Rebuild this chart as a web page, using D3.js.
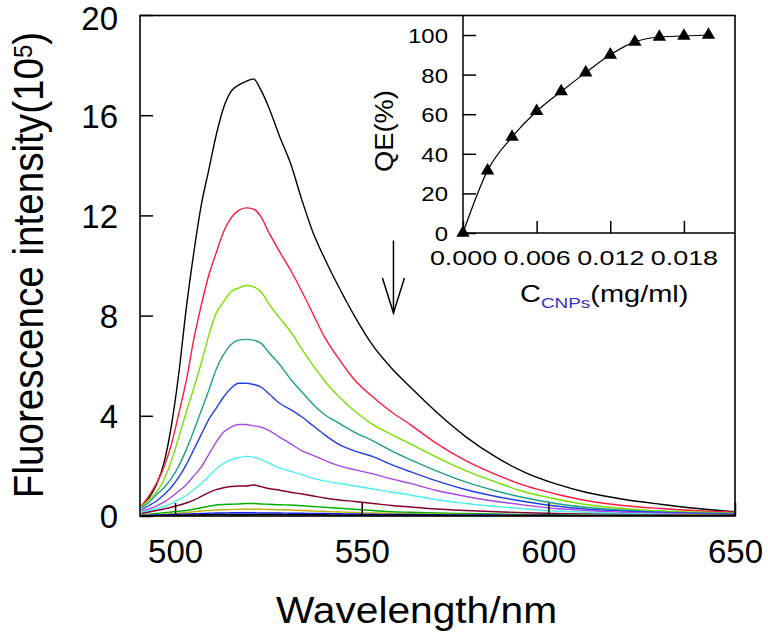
<!DOCTYPE html>
<html><head><meta charset="utf-8">
<script src="https://cdn.jsdelivr.net/npm/d3@7"></script>
<style>
body{margin:0;background:#fff}
svg{display:block}
text{font-family:"Liberation Sans",Arial,sans-serif;fill:#000}
</style>
</head><body>
<svg id="c" width="768" height="635"></svg>
<script>
// ---------- data ----------
const wavelengths = [491,493,495,497,499,501,503,505,507,509,511,513,515,517,519,521,523,525,528,531,534,537,540,544,548,553,558,563,570,578,586,594,602,610,620,630,640,650];
const sBlack  = [0.4,0.72,1.25,2.1,3.6,5.7,8.3,10.5,12.4,13.8,15.2,16.3,16.95,17.2,17.35,17.45,17.0,16.35,15.15,14.05,12.6,11.3,10.3,9.1,8.0,6.8,5.9,5.15,4.15,3.15,2.35,1.72,1.28,0.95,0.67,0.47,0.3,0.17];
const sRed    = [0.4,0.8,1.3,1.95,2.85,4.1,5.4,7.05,8.4,9.6,10.5,11.35,11.9,12.2,12.3,12.25,11.95,11.35,10.55,9.8,8.95,8.05,7.15,6.25,5.45,4.75,4.15,3.65,2.9,2.2,1.65,1.2,0.88,0.62,0.42,0.3,0.21,0.15];
const sLime   = [0.37,0.65,0.95,1.45,2.2,3.15,4.15,5.1,6.1,7.2,8.1,8.55,8.95,9.1,9.2,9.15,8.95,8.5,7.9,7.35,6.65,6.0,5.4,4.75,4.2,3.65,3.25,2.88,2.35,1.8,1.35,0.95,0.68,0.46,0.3,0.21,0.15,0.11];
const sTeal   = [0.32,0.55,0.85,1.12,1.5,2.0,2.65,3.4,4.2,5.0,5.85,6.45,6.85,7.02,7.05,7.02,6.9,6.55,6.05,5.45,4.95,4.45,4.05,3.7,3.35,3.0,2.6,2.25,1.8,1.35,1.0,0.72,0.5,0.35,0.24,0.16,0.12,0.1];
const sBlue   = [0.25,0.42,0.6,0.85,1.15,1.55,2.05,2.65,3.25,3.85,4.3,4.75,5.1,5.3,5.3,5.25,5.15,4.9,4.5,4.25,3.95,3.6,3.25,2.85,2.6,2.37,2.05,1.77,1.4,1.05,0.78,0.57,0.4,0.28,0.2,0.14,0.1,0.08];
const sPurple = [0.18,0.28,0.4,0.55,0.76,1.0,1.25,1.6,1.95,2.45,2.95,3.35,3.55,3.65,3.65,3.6,3.55,3.43,3.15,2.88,2.6,2.42,2.22,2.0,1.85,1.68,1.48,1.3,1.02,0.78,0.58,0.43,0.3,0.22,0.15,0.11,0.08,0.06];
const sCyan   = [0.15,0.22,0.3,0.38,0.5,0.65,0.82,1.05,1.3,1.58,1.88,2.1,2.25,2.33,2.38,2.35,2.25,2.12,1.92,1.78,1.65,1.5,1.4,1.3,1.2,1.08,0.95,0.84,0.65,0.5,0.38,0.28,0.2,0.15,0.1,0.07,0.05,0.04];
const sMaroon = [0.1,0.16,0.22,0.28,0.35,0.43,0.52,0.63,0.78,0.93,1.05,1.13,1.18,1.2,1.2,1.24,1.17,1.1,1.03,0.95,0.88,0.8,0.72,0.64,0.58,0.5,0.42,0.36,0.28,0.22,0.17,0.13,0.1,0.08,0.06,0.05,0.04,0.04];
const sGreen  = [0.05,0.07,0.1,0.13,0.16,0.19,0.22,0.27,0.33,0.39,0.44,0.46,0.47,0.48,0.5,0.5,0.48,0.47,0.45,0.44,0.41,0.38,0.35,0.31,0.27,0.22,0.17,0.15,0.12,0.1,0.08,0.06,0.05,0.04,0.03,0.03,0.02,0.02];
const sOlive  = [0.03,0.04,0.05,0.07,0.09,0.11,0.14,0.17,0.2,0.22,0.24,0.25,0.26,0.27,0.28,0.27,0.27,0.26,0.25,0.24,0.22,0.2,0.18,0.16,0.14,0.12,0.1,0.09,0.07,0.06,0.05,0.04,0.03,0.03,0.02,0.02,0.02,0.01];
const sBlue2  = [0.02,0.03,0.04,0.05,0.06,0.07,0.08,0.09,0.1,0.11,0.12,0.12,0.13,0.13,0.13,0.13,0.12,0.12,0.12,0.11,0.11,0.1,0.1,0.09,0.08,0.07,0.06,0.06,0.05,0.04,0.04,0.03,0.03,0.02,0.02,0.02,0.01,0.01];
const sBlack2 = [0.01,0.01,0.02,0.02,0.03,0.03,0.04,0.04,0.05,0.05,0.06,0.06,0.06,0.06,0.06,0.06,0.06,0.06,0.06,0.05,0.05,0.05,0.05,0.04,0.04,0.04,0.03,0.03,0.03,0.02,0.02,0.02,0.02,0.01,0.01,0.01,0.01,0.01];
const seriesList   = [sBlack,sRed,sLime,sTeal,sBlue,sPurple,sCyan,sMaroon,sGreen,sOlive,sBlue2,sBlack2];
const seriesColors = ["#000000","#ff1a3c","#77e000","#1fa083","#2040e0","#a848e0","#4ff0ec","#800030","#00b000","#c0b000","#1020ff","#000000"];
const xTicks = [500,550,600,650];
const yTicks = [0,4,8,12,16,20];

const insetConc = [0,0.002,0.004,0.006,0.008,0.010,0.012,0.014,0.016,0.018,0.020];
const insetQE   = [0,31.5,48.5,61.5,71.5,81,90,96.5,99,99.5,100];
const insetXTicks = [0,0.006,0.012,0.018];
const insetYTicks = [0,20,40,60,80,100];

// ---------- layout ----------
const svg = d3.select("#c");
const P = {l:140, r:735, t:15.5, b:516};
const x = d3.scaleLinear().domain([490.6,650]).range([P.l,P.r]);
const y = d3.scaleLinear().domain([0,20]).range([P.b,15]);

// curves
svg.append("clipPath").attr("id","pc").append("rect")
  .attr("x",P.l).attr("y",P.t).attr("width",P.r-P.l).attr("height",P.b-P.t);
const line = d3.line().x((d,i)=>x(wavelengths[i])).y(d=>y(d)).curve(d3.curveMonotoneX);
const gc = svg.append("g").attr("clip-path","url(#pc)");
seriesList.forEach((s,k)=>{
  gc.append("path").attr("d",line(s)).attr("fill","none")
    .attr("stroke",seriesColors[k]).attr("stroke-width",1.4);
});

// frame
svg.append("rect").attr("x",P.l).attr("y",P.t).attr("width",P.r-P.l).attr("height",P.b-P.t)
  .attr("fill","none").attr("stroke","#000").attr("stroke-width",1.6);

// main axes
const gx = svg.append("g").attr("transform",`translate(0,${P.b})`)
  .call(d3.axisBottom(x).tickValues(xTicks).tickSizeInner(-13).tickSizeOuter(0).tickFormat(d3.format("d")));
gx.select(".domain").remove();
gx.selectAll("line").attr("stroke","#000").attr("stroke-width",1.5);
gx.selectAll("text").attr("y",47).attr("dy",0).attr("font-size",33);

const gy = svg.append("g").attr("transform",`translate(${P.l},0)`)
  .call(d3.axisLeft(y).tickValues(yTicks).tickSizeInner(-13).tickSizeOuter(0));
gy.select(".domain").remove();
gy.selectAll("line").attr("stroke","#000").attr("stroke-width",1.5);
gy.selectAll("text").attr("x",-22).attr("font-size",33)
  .attr("dy",d=>d===20?"0.45em":"0.36em");

// axis titles
svg.append("text").attr("transform","translate(416.5,623) scale(1.1,1)")
  .attr("text-anchor","middle").attr("font-size",37).text("Wavelength/nm");
const yt = svg.append("text").attr("transform","translate(43,265) rotate(-90) scale(0.92,1)")
  .attr("text-anchor","middle").attr("font-size",42);
yt.append("tspan").text("Fluorescence intensity(10");
yt.append("tspan").attr("font-size",26).attr("dy",-11).text("5");
yt.append("tspan").attr("dy",11).text(")");

// arrow annotation
const ax = x(558.5), aTop = y(11.0), aTip = y(8.1);
const ga = svg.append("g").attr("stroke","#000").attr("stroke-width",1.5).attr("fill","none");
ga.append("line").attr("x1",ax).attr("x2",ax).attr("y1",aTop).attr("y2",aTip);
ga.append("path").attr("d",`M${ax-11},${aTip-35}L${ax},${aTip}L${ax+11},${aTip-35}`);

// ---------- inset ----------
const ix = d3.scaleLinear().domain([0,0.022]).range([463,733]);
const iy = d3.scaleLinear().domain([0,100]).range([233,35]);
svg.append("path").attr("d",`M463,${P.t}V233H${P.r}`).attr("fill","none")
  .attr("stroke","#000").attr("stroke-width",1.5);

const gix = svg.append("g").attr("transform","translate(0,233)")
  .call(d3.axisBottom(ix).tickValues(insetXTicks).tickSizeInner(-12).tickSizeOuter(0).tickFormat(d3.format(".3f")));
gix.select(".domain").remove();
gix.selectAll("line").attr("stroke","#000").attr("stroke-width",1.5);
gix.selectAll("text").attr("y",32.3).attr("dy",0).attr("font-size",21).attr("transform","scale(1.28,1)");

const giy = svg.append("g").attr("transform","translate(463,0)")
  .call(d3.axisLeft(iy).tickValues(insetYTicks).tickSizeInner(-13).tickSizeOuter(0));
giy.select(".domain").remove();
giy.selectAll("line").attr("stroke","#000").attr("stroke-width",1.5);
giy.selectAll("text").attr("x",-13.2).attr("dy","0.36em").attr("font-size",21).attr("transform","scale(1.14,1)");

const iline = d3.line().x((d,i)=>ix(insetConc[i])).y(d=>iy(d)).curve(d3.curveMonotoneX);
svg.append("path").attr("d",iline(insetQE)).attr("fill","none").attr("stroke","#000").attr("stroke-width",1.2);
const tri = d3.symbol().type(d3.symbolTriangle).size(78);
svg.append("g").selectAll("path").data(insetQE).join("path")
  .attr("d",tri).attr("transform",(d,i)=>`translate(${ix(insetConc[i])},${iy(d)})`).attr("fill","#000");

// inset titles
const ixt = svg.append("text").attr("transform","translate(520,302) scale(1.26,1)").attr("font-size",23);
ixt.append("tspan").text("C");
ixt.append("tspan").attr("font-size",15).attr("dy",6).attr("fill","#3a2fc0").text("CNPs");
ixt.append("tspan").attr("dy",-6).text("(mg/ml)");
svg.append("text").attr("transform","translate(393,131) rotate(-90) scale(1.05,1)")
  .attr("text-anchor","middle").attr("font-size",26).text("QE(%)");
</script>
</body></html>
